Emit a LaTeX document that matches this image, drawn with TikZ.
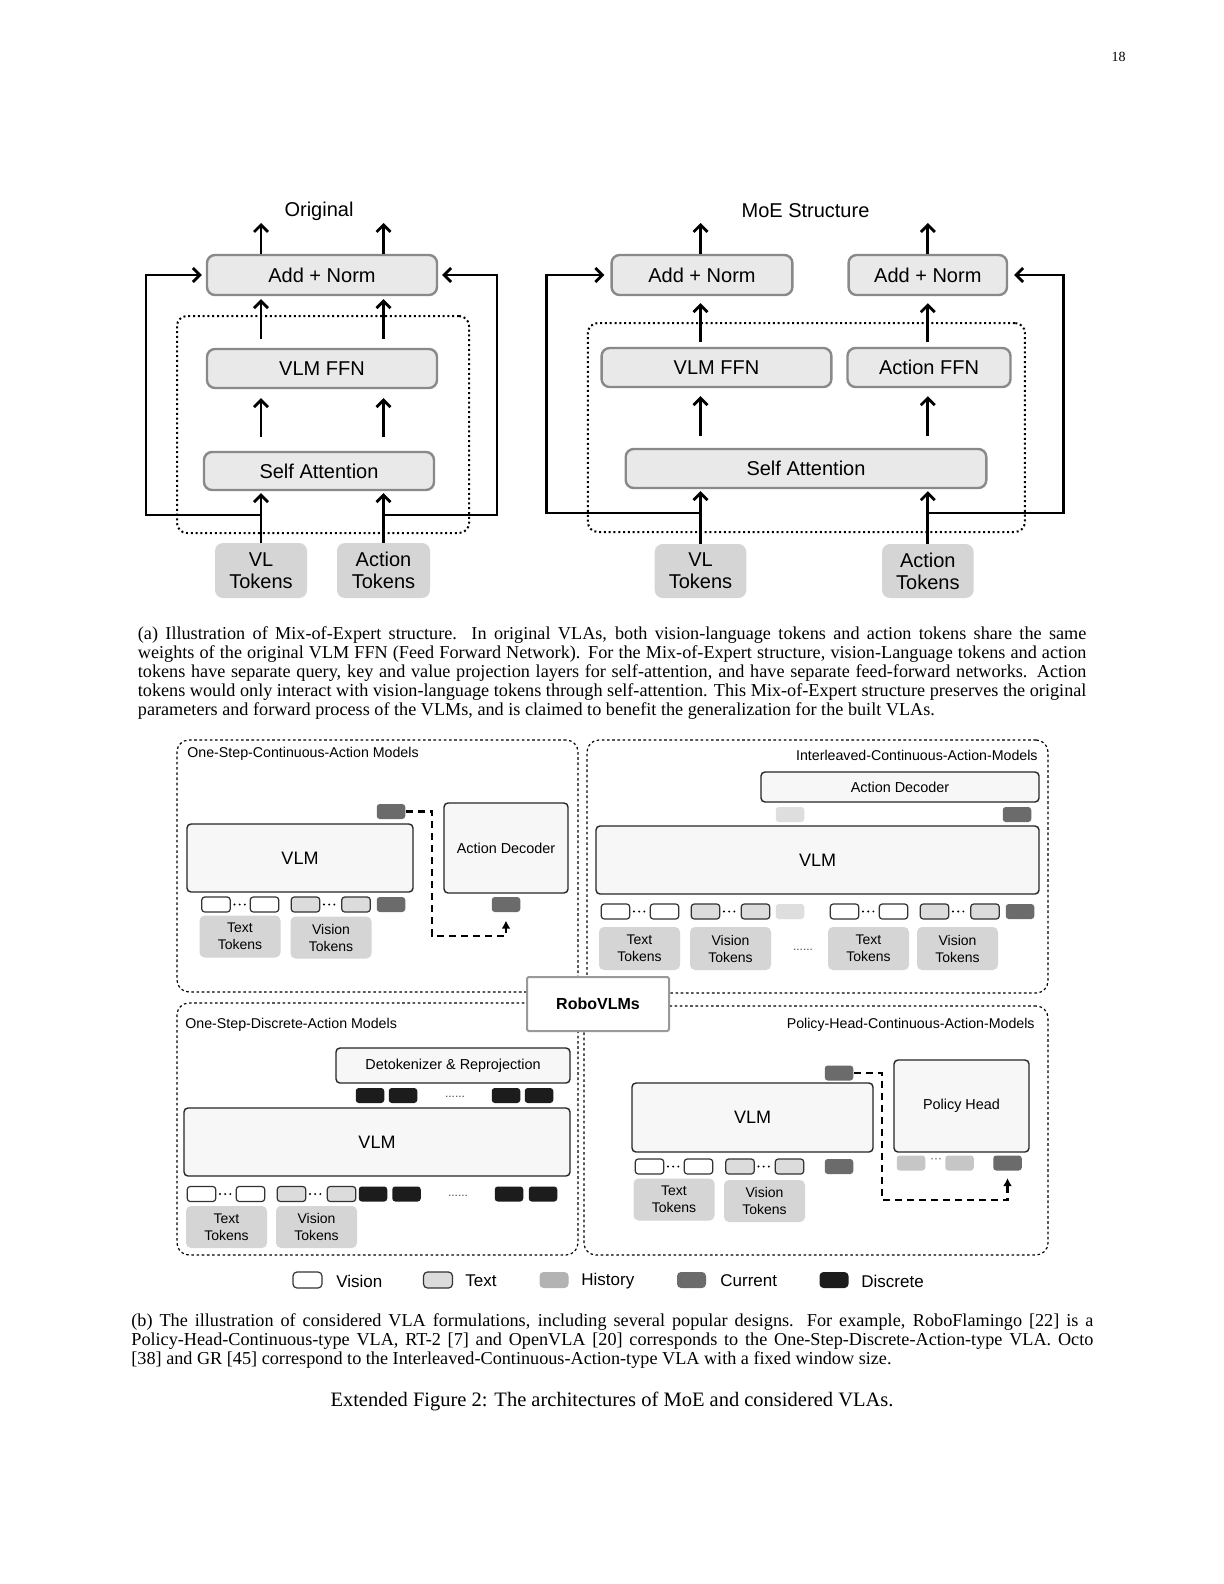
\documentclass[tikz,border=0pt]{standalone}
\usepackage{fontspec}
\setmainfont{Liberation Serif}
\setsansfont{Liberation Sans}
\usetikzlibrary{arrows.meta}

\definecolor{layerfill}{HTML}{E9E9E9}
\definecolor{layerline}{HTML}{898989}
\definecolor{tokfill}{HTML}{D5D5D5}
\definecolor{vlmfill}{HTML}{F7F7F7}
\definecolor{txtfill}{HTML}{DCDCDC}
\definecolor{histlight}{HTML}{DEDEDE}
\definecolor{histmid}{HTML}{C6C6C6}
\definecolor{histdark}{HTML}{B3B3B3}
\definecolor{curfill}{HTML}{6B6B6B}
\definecolor{disfill}{HTML}{1C1C1C}

\tikzset{
  layer/.style={rectangle, rounded corners=4pt, fill=layerfill, draw=layerline, line width=1.2pt, inner sep=0pt, font=\sffamily\fontsize{10}{12}\selectfont},
  bigtok/.style={rectangle, rounded corners=4pt, fill=tokfill, inner sep=0pt, align=center, font=\sffamily\fontsize{10}{11}\selectfont},
  expert/.style={rectangle, rounded corners=5pt, draw, line width=1pt, dash pattern=on 1pt off 1.4pt},
  up/.style={line width=1.4pt, -{Straight Barb[length=3.5pt,width=7pt]}},
  frame/.style={rectangle, rounded corners=6pt, draw, line width=0.6pt, dash pattern=on 1.3pt off 1.3pt},
  module/.style={rectangle, rounded corners=2pt, fill=vlmfill, draw=black!85, line width=0.7pt, inner sep=0pt, font=\sffamily\fontsize{7.2}{8.5}\selectfont},
  vlm/.style={module, font=\sffamily\fontsize{9}{10}\selectfont},
  tok/.style={rectangle, rounded corners=1.5pt, minimum width=14.25pt, minimum height=7.5pt, inner sep=0pt, line width=0.6pt},
  vistok/.style={tok, fill=white, draw=black!80},
  txttok/.style={tok, fill=txtfill, draw=black!80},
  histtok/.style={tok, fill=#1}, histtok/.default=histmid,
  curtok/.style={tok, fill=curfill},
  distok/.style={tok, fill=disfill},
  toklabel/.style={rectangle, rounded corners=2.5pt, fill=tokfill, minimum width=40.5pt, minimum height=21pt, inner sep=0pt, align=center, font=\sffamily\fontsize{7}{8.5}\selectfont},
  tokdots/.style={line width=1.1pt, line cap=round, dash pattern=on 0pt off 2.6pt, shorten <=1.8pt, shorten >=1.6pt},
  gapdots/.style={inner sep=0pt, text=black!70, font=\sffamily\fontsize{6}{6}\selectfont},
  feed/.style={line width=1.2pt, dash pattern=on 3.5pt off 2.5pt, -{Latex[length=4pt,width=4.5pt]}},
  group/.style={inner sep=0pt, font=\sffamily\fontsize{7.1}{8.5}\selectfont},
  legbox/.style={minimum width=14.5pt, minimum height=8pt, rounded corners=2pt},
  legname/.style={anchor=west, inner sep=0pt, font=\sffamily\fontsize{8.5}{10}\selectfont},
  capline/.style={anchor=base west, inner sep=0pt, font=\fontsize{9.1}{9.5}\selectfont},
}

\begin{document}
\begin{tikzpicture}[x=0.5pt,y=-0.5pt]
    \useasboundingbox (0,0) rectangle (1224,1584);
    \fill[white] (0,0) rectangle (1224,1584);

    \node[anchor=base east, inner sep=0pt, font=\fontsize{7}{8}\selectfont] (pageNo) at (1126,62) {18};

    % (a) Original layer %
    \node[font=\sffamily\fontsize{10}{12}\selectfont] (oriTitle) at (319,211) {Original};
    \node[expert, minimum width=146pt, minimum height=108.5pt] (oriExp) at (323,424.5) {};
    \begin{scope}[every node/.style={layer}]
        \node[minimum width=115pt, minimum height=20pt] (oriAdd) at (322,275) {Add + Norm};
        \node[minimum width=115pt, minimum height=19.5pt] (oriFFN) at (322,368.5) {VLM FFN};
        \node[minimum width=115pt, minimum height=19pt] (oriSA) at (319,471) {Self Attention};
    \end{scope}
    \node[bigtok, minimum width=46pt, minimum height=27.5pt] (oriVL) at (261,570.5) {VL\\Tokens};
    \node[bigtok, minimum width=46.5pt, minimum height=27.5pt] (oriAct) at (383.5,570.5) {Action\\Tokens};
    \coordinate (oriOutA) at (261,223);
    \coordinate (oriOutB) at (383.5,223);
    \coordinate (oriSkipA) at (146,515);
    \coordinate (oriSkipB) at (497,515);

    \path [up] (oriAdd.north -| oriOutA) edge (oriOutA);
    \path [up] (oriAdd.north -| oriOutB) edge (oriOutB);
    \path [up] (oriFFN.north -| oriVL) edge [shorten <=4.5pt, shorten >=1.5pt] (oriAdd.south -| oriVL);
    \path [up] (oriFFN.north -| oriAct) edge [shorten <=4.5pt, shorten >=1.5pt] (oriAdd.south -| oriAct);
    \path [up] (oriSA.north -| oriVL) edge [shorten <=7pt, shorten >=4.5pt] (oriFFN.south -| oriVL);
    \path [up] (oriSA.north -| oriAct) edge [shorten <=7pt, shorten >=4.5pt] (oriFFN.south -| oriAct);
    \path [up] (oriVL) edge [shorten >=1pt] (oriSA.south -| oriVL);
    \path [up] (oriAct) edge [shorten >=1pt] (oriSA.south -| oriAct);
    % residual paths %
    \draw [up, shorten >=2pt] (oriVL.north |- oriSkipA) -- (oriSkipA) |- (oriAdd.west);
    \draw [up, shorten >=2pt] (oriAct.north |- oriSkipB) -- (oriSkipB) |- (oriAdd.east);

    % (a) MoE layer %
    \node[font=\sffamily\fontsize{10}{12}\selectfont] (moeTitle) at (805.5,211) {MoE Structure};
    \node[expert, minimum width=218.5pt, minimum height=104.5pt] (moeExp) at (806.4,427.5) {};
    \begin{scope}[every node/.style={layer}]
        \node[minimum width=90.4pt, minimum height=20pt] (moeAddL) at (702,275) {Add + Norm};
        \node[minimum width=79.2pt, minimum height=20pt] (moeAddR) at (927.8,275) {Add + Norm};
        \node[minimum width=114.9pt, minimum height=19.5pt] (moeFFN) at (716.5,367.5) {VLM FFN};
        \node[minimum width=81.5pt, minimum height=19.5pt] (moeActFFN) at (929,367.5) {Action FFN};
        \node[minimum width=180.3pt, minimum height=19.5pt] (moeSA) at (806,468.5) {Self Attention};
    \end{scope}
    \node[bigtok, minimum width=45.8pt, minimum height=27pt] (moeVL) at (700.5,571) {VL\\Tokens};
    \node[bigtok, minimum width=45.8pt, minimum height=27pt] (moeAct) at (927.8,571) {Action\\Tokens};
    \coordinate (moeOutA) at (700.5,223);
    \coordinate (moeOutB) at (927.8,223);
    \coordinate (moeSkipA) at (546.5,513);
    \coordinate (moeSkipB) at (1063.8,513);

    \path [up] (moeAddL.north -| moeOutA) edge (moeOutA);
    \path [up] (moeAddR.north -| moeOutB) edge (moeOutB);
    \path [up] (moeFFN.north -| moeVL) edge [shorten <=2.5pt, shorten >=3.5pt] (moeAddL.south -| moeVL);
    \path [up] (moeActFFN.north -| moeAct) edge [shorten <=2.5pt, shorten >=3.5pt] (moeAddR.south -| moeAct);
    \path [up] (moeSA.north -| moeVL) edge [shorten <=6pt, shorten >=4pt] (moeFFN.south -| moeVL);
    \path [up] (moeSA.north -| moeAct) edge [shorten <=6pt, shorten >=4pt] (moeActFFN.south -| moeAct);
    \path [up] (moeVL) edge [shorten >=1pt] (moeSA.south -| moeVL);
    \path [up] (moeAct) edge [shorten >=1pt] (moeSA.south -| moeAct);
    % residual paths %
    \draw [up, shorten >=3pt] (moeVL.north |- moeSkipA) -- (moeSkipA) |- (moeAddL.west);
    \draw [up, shorten >=3pt] (moeAct.north |- moeSkipB) -- (moeSkipB) |- (moeAddR.east);

    % (a) caption %
    \node[capline] (capA1) at (137.5,639) {\hbox to 474.25pt{(a) Illustration of Mix-of-Expert structure. In original VLAs, both vision-language tokens and action tokens share the same}};
    \node[capline] (capA2) at (137.5,658) {\hbox to 474.25pt{weights of the original VLM FFN (Feed Forward Network). For the Mix-of-Expert structure, vision-Language tokens and action}};
    \node[capline] (capA3) at (137.5,677) {\hbox to 474.25pt{tokens have separate query, key and value projection layers for self-attention, and have separate feed-forward networks. Action}};
    \node[capline] (capA4) at (137.5,696) {\hbox to 474.25pt{tokens would only interact with vision-language tokens through self-attention. This Mix-of-Expert structure preserves the original}};
    \node[capline] (capA5) at (137.5,715) {parameters and forward process of the VLMs, and is claimed to benefit the generalization for the built VLAs.};

    % (b) frames %
    \node[frame, minimum width=200.5pt, minimum height=126pt] (oscFrame) at (377.5,866) {};
    \node[frame, minimum width=230.5pt, minimum height=126.5pt] (icaFrame) at (817.5,866.5) {};
    \node[frame, minimum width=200.5pt, minimum height=126pt] (osdFrame) at (377.5,1129) {};
    \node[frame, minimum width=232pt, minimum height=124.5pt] (phFrame) at (816,1130.5) {};
    \node[rectangle, rounded corners=1pt, fill=white, draw=black!40, line width=1pt, minimum width=71pt, minimum height=27pt, font=\sffamily\bfseries\fontsize{8}{10}\selectfont] (robo) at (598,1004) {RoboVLMs};

    \node[group, anchor=west] (oscName) at (187,754) {One-Step-Continuous-Action Models};
    \node[group, anchor=east] (icaName) at (1038,755) {Interleaved-Continuous-Action-Models};
    \node[group, anchor=west] (osdName) at (185,1025) {One-Step-Discrete-Action Models};
    \node[group, anchor=east] (phName) at (1035,1025) {Policy-Head-Continuous-Action-Models};

    % One-Step-Continuous %
    \node[vlm, minimum width=113pt, minimum height=34pt] (oscVLM) at (300,858) {VLM};
    \node[module, minimum width=62pt, minimum height=45pt] (oscDec) at (506,848) {Action Decoder};
    \node[curtok] (oscOut) at (391,811.5) {};
    \node[curtok] (oscIn) at (506,904.5) {};
    \node[vistok] (oscT1) at (216,904.5) {};
    \node[vistok] (oscT2) at (264.5,904.5) {};
    \node[txttok] (oscV1) at (305.5,904.5) {};
    \node[txttok] (oscV2) at (356,904.5) {};
    \node[curtok] (oscCur) at (391,904.5) {};
    \node[toklabel] (oscTxt) at (240,936.5) {Text\\Tokens};
    \node[toklabel] (oscVis) at (331,937.5) {Vision\\Tokens};
    \draw[tokdots] (oscT1) -- (oscT2);
    \draw[tokdots] (oscV1) -- (oscV2);
    \coordinate (oscBendA) at (432,811.5);
    \coordinate (oscBendB) at (432,936);
    \draw[feed, shorten >=4pt] (oscOut.east) -- (oscBendA) -- (oscBendB) -| (oscIn.south);

    % Interleaved-Continuous %
    \node[module, minimum width=139pt, minimum height=15pt] (icaDec) at (900,787) {Action Decoder};
    \node[histtok=histlight] (icaPast) at (790,814.5) {};
    \node[curtok] (icaOut) at (1017,814.5) {};
    \node[vlm, minimum width=221.5pt, minimum height=34pt] (icaVLM) at (817.5,860) {VLM};
    \node[vistok] (icaT1) at (615.5,911.5) {};
    \node[vistok] (icaT2) at (664.5,911.5) {};
    \node[txttok] (icaV1) at (705.5,911.5) {};
    \node[txttok] (icaV2) at (755.5,911.5) {};
    \node[histtok=histlight] (icaHist) at (790,911.5) {};
    \node[vistok] (icaT3) at (844.5,911.5) {};
    \node[vistok] (icaT4) at (893.5,911.5) {};
    \node[txttok] (icaV3) at (934.5,911.5) {};
    \node[txttok] (icaV4) at (985,911.5) {};
    \node[curtok] (icaCur) at (1020,911.5) {};
    \draw[tokdots] (icaT1) -- (icaT2);
    \draw[tokdots] (icaV1) -- (icaV2);
    \draw[tokdots] (icaT3) -- (icaT4);
    \draw[tokdots] (icaV3) -- (icaV4);
    \node[toklabel, minimum height=21.5pt] (icaTxtA) at (639.5,948.5) {Text\\Tokens};
    \node[toklabel, minimum height=21.5pt] (icaVisA) at (730.5,948.5) {Vision\\Tokens};
    \node[toklabel, minimum height=21.5pt] (icaTxtB) at (868.5,948.5) {Text\\Tokens};
    \node[toklabel, minimum height=21.5pt] (icaVisB) at (957.5,948.5) {Vision\\Tokens};
    \node[gapdots] (icaGap) at (803,950) {......};

    % One-Step-Discrete %
    \node[module, minimum width=117pt, minimum height=17.5pt] (osdDet) at (453,1065.5) {Detokenizer \& Reprojection};
    \node[distok] (osdA1) at (370,1095.5) {};
    \node[distok] (osdA2) at (403,1095.5) {};
    \node[gapdots] (osdGapA) at (455,1097) {......};
    \node[distok] (osdA3) at (506,1095.5) {};
    \node[distok] (osdA4) at (539,1095.5) {};
    \node[vlm, minimum width=193pt, minimum height=34pt] (osdVLM) at (377,1142) {VLM};
    \node[vistok] (osdT1) at (201.5,1194) {};
    \node[vistok] (osdT2) at (250.5,1194) {};
    \node[txttok] (osdV1) at (291.5,1194) {};
    \node[txttok] (osdV2) at (341.5,1194) {};
    \node[distok] (osdB1) at (373,1194) {};
    \node[distok] (osdB2) at (406.5,1194) {};
    \node[gapdots] (osdGapB) at (458,1196) {......};
    \node[distok] (osdB3) at (509,1194) {};
    \node[distok] (osdB4) at (543,1194) {};
    \draw[tokdots] (osdT1) -- (osdT2);
    \draw[tokdots] (osdV1) -- (osdV2);
    \node[toklabel] (osdTxt) at (226.5,1227) {Text\\Tokens};
    \node[toklabel] (osdVis) at (316.5,1227) {Vision\\Tokens};

    % Policy-Head-Continuous %
    \node[curtok] (phOut) at (839,1073) {};
    \node[vlm, minimum width=120.5pt, minimum height=34.5pt] (phVLM) at (752.5,1117.5) {VLM};
    \node[module, minimum width=67.5pt, minimum height=46pt] (phHead) at (961.5,1106) {Policy Head};
    \node[histtok] (phH1) at (911,1163) {};
    \node[gapdots] (phGap) at (936,1161) {···};
    \node[histtok] (phH2) at (959.5,1163) {};
    \node[curtok] (phIn) at (1007.5,1163) {};
    \node[vistok] (phT1) at (649.5,1166.5) {};
    \node[vistok] (phT2) at (698.5,1166.5) {};
    \node[txttok] (phV1) at (740,1166.5) {};
    \node[txttok] (phV2) at (789.5,1166.5) {};
    \node[curtok] (phCur) at (839,1166.5) {};
    \draw[tokdots] (phT1) -- (phT2);
    \draw[tokdots] (phV1) -- (phV2);
    \node[toklabel] (phTxt) at (674,1199.5) {Text\\Tokens};
    \node[toklabel] (phVis) at (764.5,1201) {Vision\\Tokens};
    \coordinate (phBendA) at (882,1073);
    \coordinate (phBendB) at (882,1200);
    \draw[feed, shorten >=3.5pt] (phOut.east) -- (phBendA) -- (phBendB) -| (phIn.south);

    % legend %
    \node[vistok, legbox] (legVis) at (307.5,1280) {};
    \node[legname] (legVisName) at (336,1281) {Vision};
    \node[txttok, legbox] (legTxt) at (438,1280) {};
    \node[legname] (legTxtName) at (465,1281) {Text};
    \node[histtok=histdark, legbox] (legHist) at (554,1280) {};
    \node[legname] (legHistName) at (581,1281) {History};
    \node[curtok, legbox] (legCur) at (691.5,1280) {};
    \node[legname] (legCurName) at (720,1281) {Current};
    \node[distok, legbox] (legDis) at (834,1280) {};
    \node[legname] (legDisName) at (861,1281) {Discrete};

    % (b) caption %
    \node[capline] (capB1) at (131,1326) {\hbox to 481pt{(b) The illustration of considered VLA formulations, including several popular designs. For example, RoboFlamingo [22] is a}};
    \node[capline] (capB2) at (131,1345) {\hbox to 481pt{Policy-Head-Continuous-type VLA, RT-2 [7] and OpenVLA [20] corresponds to the One-Step-Discrete-Action-type VLA. Octo}};
    \node[capline] (capB3) at (131,1364) {[38] and GR [45] correspond to the Interleaved-Continuous-Action-type VLA with a fixed window size.};
    \node[anchor=base, inner sep=0pt, font=\fontsize{10.25}{12}\selectfont] (figTitle) at (612,1406) {Extended Figure 2: The architectures of MoE and considered VLAs.};

\end{tikzpicture}
\end{document}
